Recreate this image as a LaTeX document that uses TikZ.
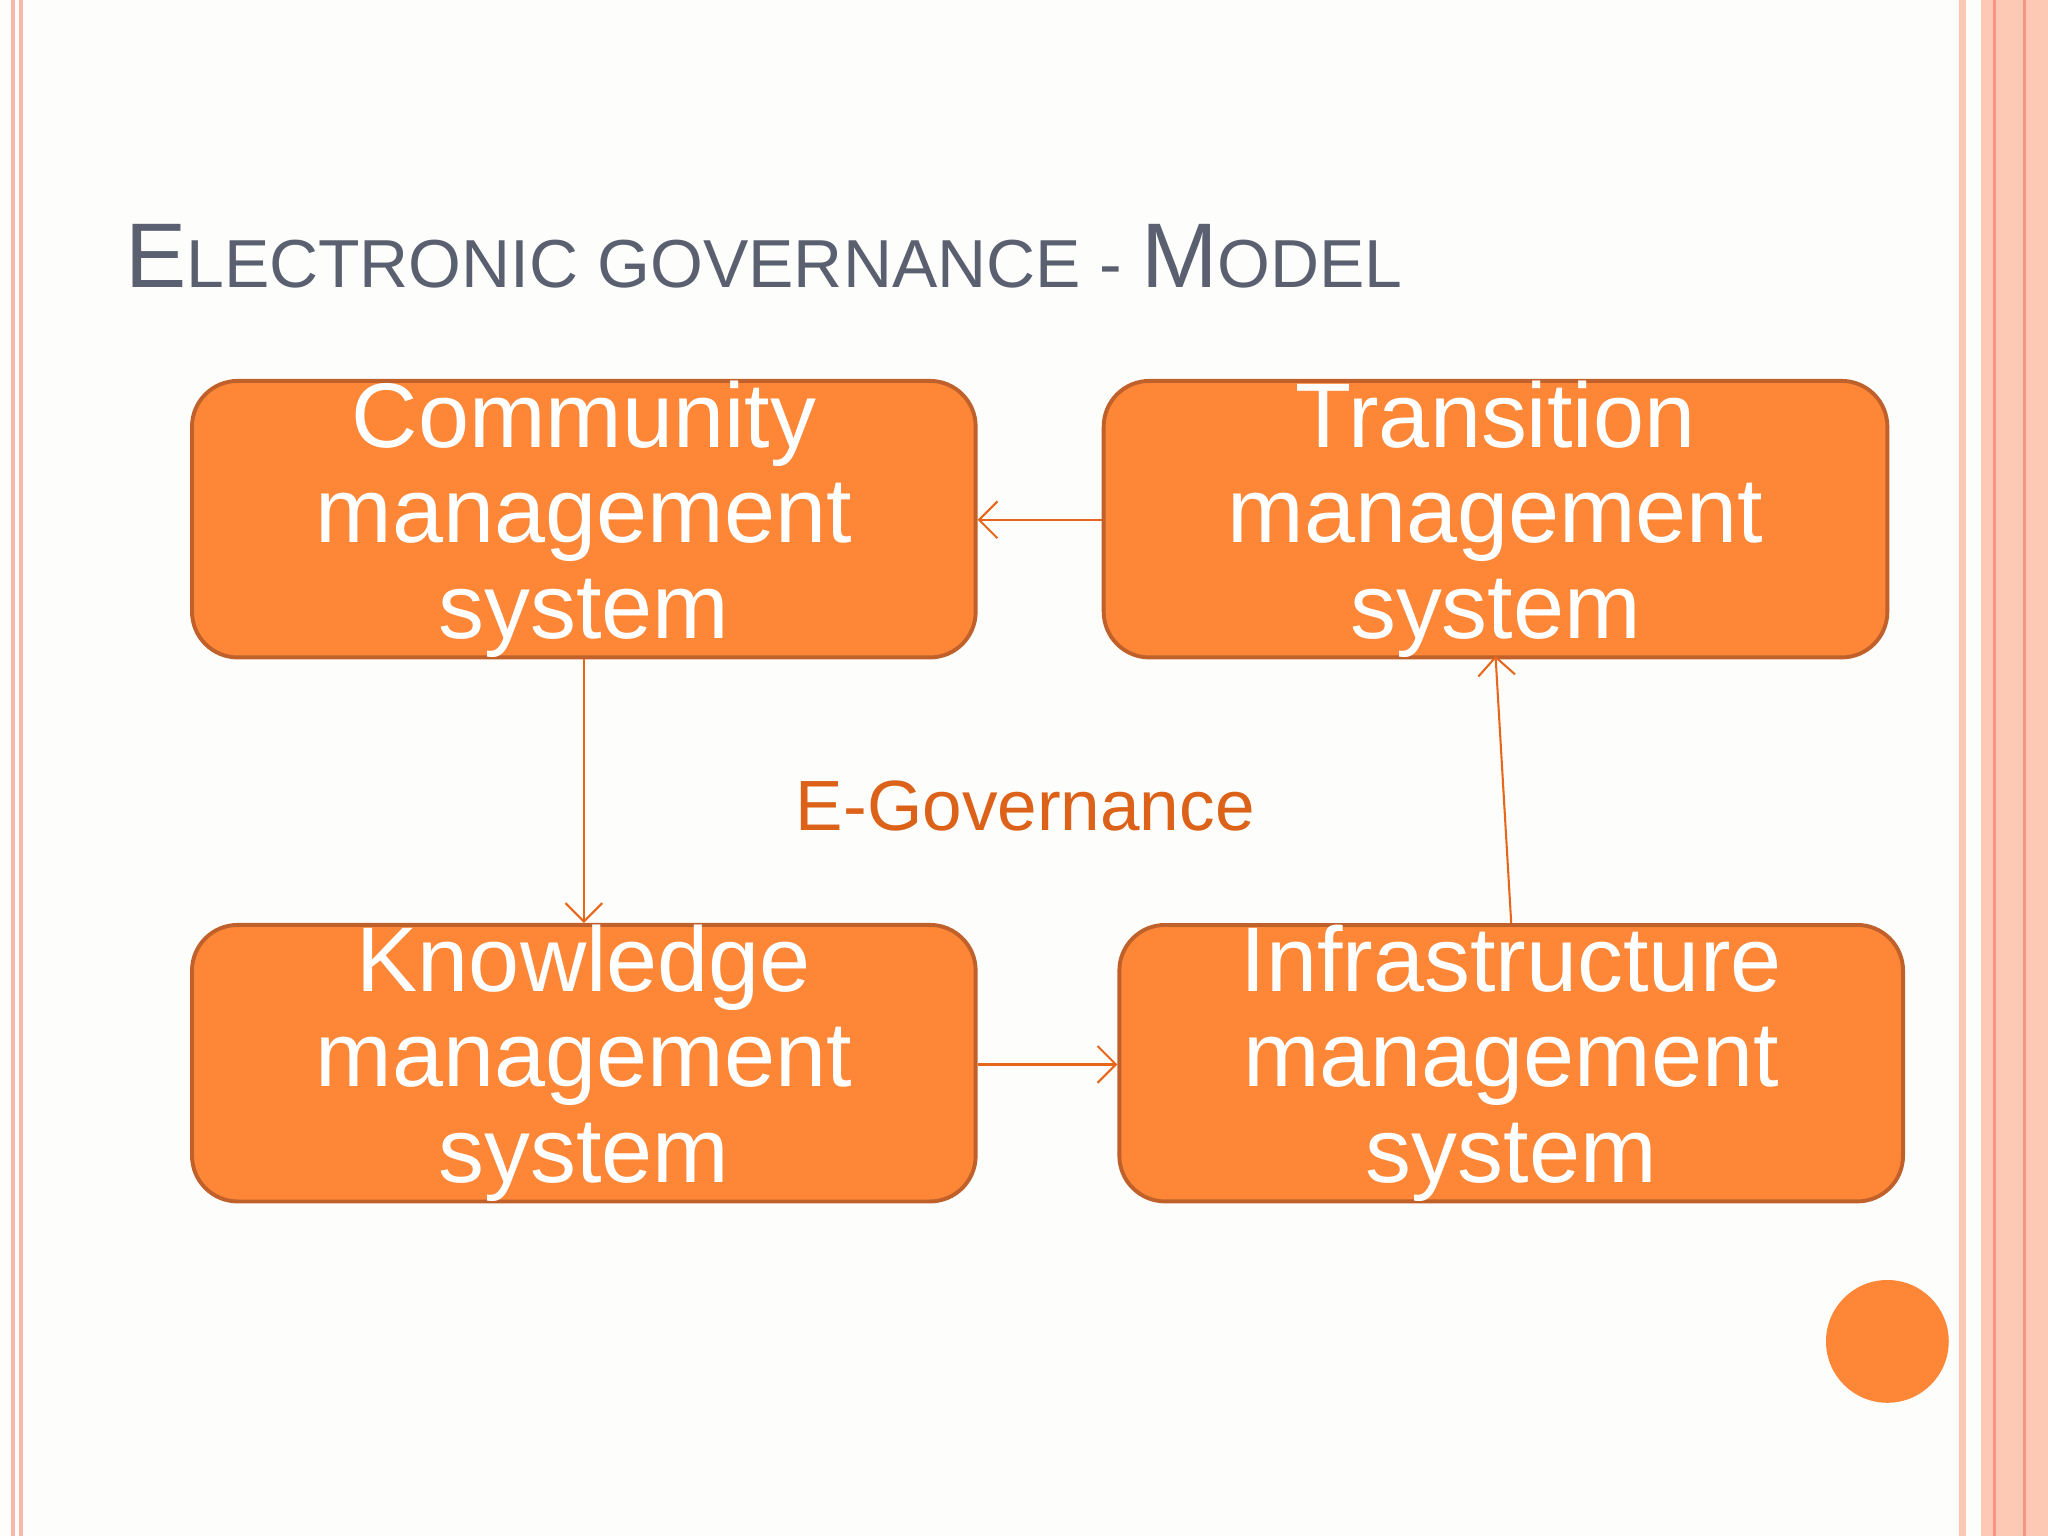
\documentclass[tikz,border=0pt]{standalone}
\usepackage{fontspec}
\setmainfont{Liberation Sans}
\usetikzlibrary{arrows.meta}
\definecolor{bg}{HTML}{FDFDFB}
\definecolor{boxfill}{HTML}{FD8637}
\definecolor{boxdraw}{HTML}{C0602A}
\definecolor{arr}{HTML}{E8661A}
\definecolor{ttl}{HTML}{5A6070}
\definecolor{pinkline}{HTML}{F6B9A8}
\definecolor{salmon}{HTML}{FDC8B4}
\tikzset{
  mbox/.style={draw=boxdraw, line width=0.85pt, fill=boxfill, rounded corners=0.35cm,
    minimum width=6cm, minimum height=2.08cm, align=center, text=white,
    font=\fontsize{20}{20.8}\selectfont, inner sep=0pt},
  conn/.style={draw=arr, line width=0.45pt, -{Straight Barb[length=4pt,width=8pt]}}
}
\begin{document}
\begin{tikzpicture}
\fill[bg] (0,0) rectangle (15.68,-11.76);
\useasboundingbox (0,0) rectangle (15.68,-11.76);
% left border lines
\draw[pinkline, line width=0.8pt] (0.10,0) -- (0.10,-11.76);
\draw[pinkline, line width=0.8pt] (0.16,0) -- (0.16,-11.76);
% right stripes
\fill[salmon] (15.00,0) rectangle (15.05,-11.76);
\fill[salmon] (15.17,0) rectangle (15.68,-11.76);
\draw[pinkline!80!red, line width=0.6pt] (15.27,0) -- (15.27,-11.76);
\draw[pinkline!80!red, line width=0.6pt] (15.50,0) -- (15.50,-11.76);
% title
\node[anchor=base west, text=ttl, inner sep=0pt] (title) at (0.95,-2.20)
  {\fontsize{20}{20}\selectfont E\fontsize{14.8}{15}\selectfont LECTRONIC GOVERNANCE - \fontsize{20}{20}\selectfont M\fontsize{14.8}{15}\selectfont ODEL};
% boxes
\node[mbox] (cms) at (4.47,-3.975) {Community\\management\\system};
\node[mbox] (tms) at (11.45,-3.975) {Transition\\management\\system};
\node[mbox] (kms) at (4.47,-8.14) {Knowledge\\management\\system};
\node[mbox] (ims) at (11.57,-8.14) {Infrastructure\\management\\system};
% connectors
\draw[conn] (tms.west |- 0,-3.98) -- (cms.east |- 0,-3.98);
\draw[conn] (cms.south) -- (kms.north);
\draw[conn] (kms.east |- 0,-8.15) -- (ims.west |- 0,-8.15);
\draw[conn] (ims.north) -- (11.45,-5.02);
% label
\node[text=arr!95!black, font=\fontsize{15.5}{16}\selectfont] (eg) at (7.85,-6.17) {E-Governance};
% circle
\fill[boxfill] (14.45,-10.27) circle (0.47);
\end{tikzpicture}
\end{document}
